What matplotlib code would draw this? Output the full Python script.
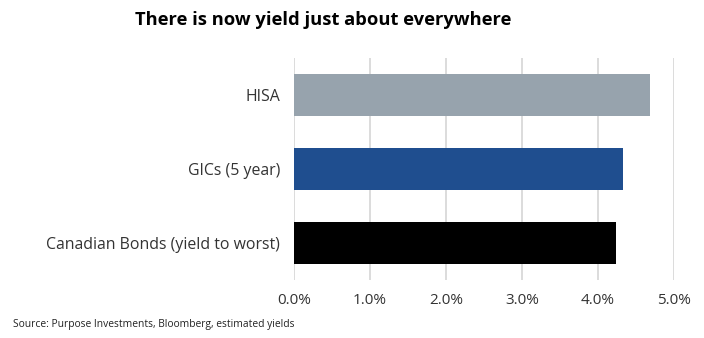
import matplotlib
matplotlib.use("Agg")
import matplotlib.pyplot as plt
from matplotlib.ticker import FuncFormatter

categories = ["HISA", "GICs (5 year)", "Canadian Bonds (yield to worst)"]
values = [4.69, 4.33, 4.24]
colors = ["#97a3ad", "#1f4e8f", "#000000"]
xticks = [0, 1, 2, 3, 4, 5]

plt.rcParams['font.family'] = ['Open Sans', 'DejaVu Sans']

fig = plt.figure(figsize=(7.04, 3.38), dpi=100)
ax = fig.add_axes([294/704, 1 - 280/338, (674-294)/704, (280-58)/338])

ypos = list(range(len(categories)))
ax.barh(ypos, values, height=0.555, color=colors, zorder=3)
ax.set_yticks(ypos)
ax.set_yticklabels(categories, fontsize=11.4, color="#333333")
ax.set_ylim(2.5, -0.5)
ax.set_xlim(0, 5)
ax.set_xticks(xticks)
ax.xaxis.set_major_formatter(FuncFormatter(lambda v, p: f"{v:.1f}%"))
ax.tick_params(axis='x', labelsize=11, colors="#333333", length=0, pad=9)
ax.tick_params(axis='y', length=0, pad=10)
ax.grid(axis='x', color="#d9d9d9", linewidth=1.3, zorder=0)
for s in ax.spines.values():
    s.set_visible(False)

fig.text(323/704, 1 - 20/338, "There is now yield just about everywhere", ha='center', va='center',
         fontsize=13.2, fontweight='bold', color="#000000")
fig.text(13/704, 1 - 324/338, "Source: Purpose Investments, Bloomberg, estimated yields",
         ha='left', va='center', fontsize=7.4, color="#222222")

fig.savefig("out.png", dpi=100)
